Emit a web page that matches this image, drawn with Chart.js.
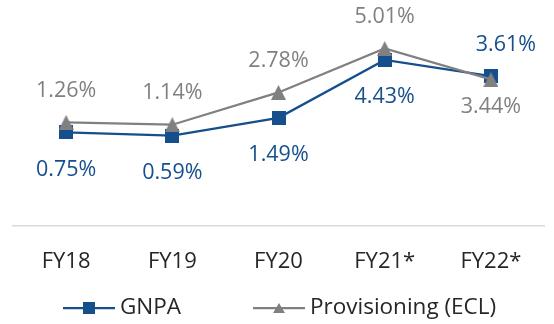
<!DOCTYPE html>
<html>
<head>
<meta charset="utf-8">
<script src="https://cdn.jsdelivr.net/npm/chart.js@4/dist/chart.umd.min.js"></script>
<style>
  html, body { margin: 0; padding: 0; background: #ffffff; }
  #wrap { width: 554px; height: 324px; }
</style>
</head>
<body>
<div id="wrap"><canvas id="chart" width="554" height="324"></canvas></div>
<script>
// Fiscal years and ratios (%)
const categories = ['FY18', 'FY19', 'FY20', 'FY21*', 'FY22*'];
const gnpa = [0.75, 0.59, 1.49, 4.43, 3.61];
const provisioning = [1.26, 1.14, 2.78, 5.01, 3.44];

const BLUE = '#154F8C';
const GREY = '#808080';
const INK = '#262626';
const FONT = "'Open Sans', 'Noto Sans', sans-serif";

// Marker bitmaps used as point styles
function squareMarker(size, color) {
  const c = document.createElement('canvas');
  c.width = size; c.height = size;
  const g = c.getContext('2d');
  g.fillStyle = color;
  g.fillRect(0, 0, size, size);
  return c;
}
function triangleMarker(w, h, color) {
  const c = document.createElement('canvas');
  c.width = w; c.height = h;
  const g = c.getContext('2d');
  g.fillStyle = color;
  g.beginPath();
  g.moveTo(w / 2, 0);
  g.lineTo(w, h);
  g.lineTo(0, h);
  g.closePath();
  g.fill();
  return c;
}

// Percentage labels next to each point
const valueLabels = {
  id: 'valueLabels',
  afterDatasetsDraw(chart) {
    const ctx = chart.ctx;
    ctx.save();
    ctx.font = '21.5px ' + FONT;
    ctx.textAlign = 'center';
    ctx.textBaseline = 'middle';
    chart.data.datasets.forEach((ds, di) => {
      const meta = chart.getDatasetMeta(di);
      meta.data.forEach((pt, i) => {
        const above = ds.labelSide[i] === 'above';
        const dy = above ? -ds.labelGapAbove : ds.labelGapBelow;
        const dx = (ds.labelShiftX && ds.labelShiftX[i]) || 0;
        ctx.fillStyle = ds.labelColor;
        ctx.fillText(ds.data[i].toFixed(2) + '%', pt.x + dx, pt.y + dy);
      });
    });
    ctx.restore();
  }
};

// Legend with line-and-marker samples
const lineLegend = {
  id: 'lineLegend',
  afterDraw(chart, args, opts) {
    const ctx = chart.ctx;
    ctx.save();
    ctx.font = opts.fontSize + 'px ' + FONT;
    ctx.textBaseline = 'middle';
    ctx.textAlign = 'left';
    chart.data.datasets.forEach((ds, i) => {
      const x0 = opts.starts[i];
      const y = opts.y;
      ctx.strokeStyle = ds.borderColor;
      ctx.lineWidth = ds.borderWidth;
      ctx.beginPath();
      ctx.moveTo(x0, y);
      ctx.lineTo(x0 + opts.sampleWidth, y);
      ctx.stroke();
      const m = ds.legendMarker;
      ctx.drawImage(m, Math.round(x0 + opts.sampleWidth / 2 - m.width / 2), Math.round(y - m.height / 2));
      ctx.fillStyle = INK;
      ctx.fillText(ds.label, x0 + opts.sampleWidth + opts.textGap, y);
    });
    ctx.restore();
  }
};

new Chart(document.getElementById('chart'), {
  type: 'line',
  data: {
    labels: categories,
    datasets: [
      {
        label: 'GNPA',
        data: gnpa,
        borderColor: BLUE,
        backgroundColor: BLUE,
        borderWidth: 2.25,
        pointStyle: squareMarker(14, BLUE),
        pointRadius: 7,
        tension: 0,
        order: 1,
        legendMarker: squareMarker(12, BLUE),
        labelColor: BLUE,
        labelSide: ['below', 'below', 'below', 'below', 'above'],
        labelGapAbove: 31,
        labelGapBelow: 37,
        labelShiftX: [0, 0, 0, 0, 15]
      },
      {
        label: 'Provisioning (ECL)',
        data: provisioning,
        borderColor: GREY,
        backgroundColor: GREY,
        borderWidth: 2.25,
        pointStyle: triangleMarker(15, 15, GREY),
        pointRadius: 7,
        tension: 0,
        order: 0,
        legendMarker: triangleMarker(12, 10, GREY),
        labelColor: GREY,
        labelSide: ['above', 'above', 'above', 'above', 'below'],
        labelGapAbove: 32,
        labelGapBelow: 27
      }
    ]
  },
  options: {
    responsive: false,
    devicePixelRatio: 1,
    animation: false,
    layout: { padding: { left: 13, right: 10, top: 29, bottom: 27 } },
    scales: {
      x: {
        type: 'category',
        offset: true,
        grid: { display: false, drawTicks: false },
        border: { display: true, color: '#D9D9D9', width: 1.5 },
        ticks: { color: INK, font: { family: FONT, size: 22 }, padding: 22.3 }
      },
      y: { display: false, min: -4, max: 6 }
    },
    plugins: {
      legend: { display: false },
      tooltip: { enabled: false },
      lineLegend: { starts: [63, 253], y: 308, sampleWidth: 52, textGap: 5, fontSize: 22.5 }
    }
  },
  plugins: [valueLabels, lineLegend]
});
</script>
</body>
</html>
